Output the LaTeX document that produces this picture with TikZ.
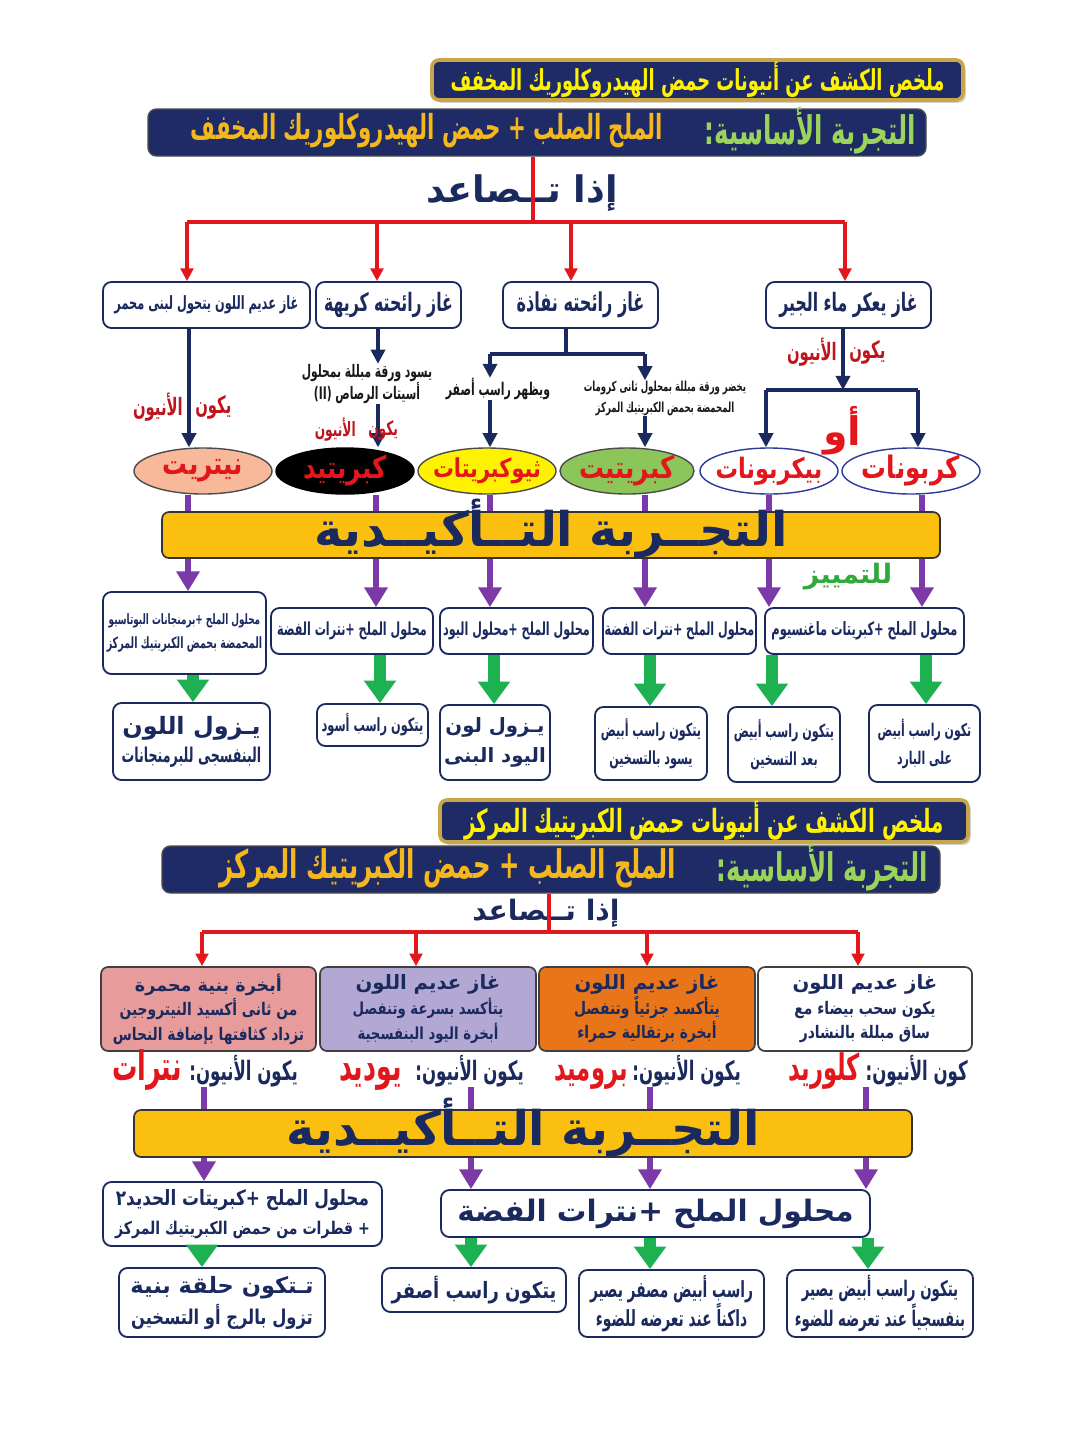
\documentclass[tikz,border=0pt]{standalone}
\usepackage{fontspec}
\usetikzlibrary{arrows.meta,shapes.geometric,shadows}
\TeXXeTstate=1
\newfontfamily\arc[Script=Arabic,FakeStretch=0.62]{DejaVu Sans}
\newfontfamily\arm[Script=Arabic,FakeStretch=0.8]{DejaVu Sans}
\newfontfamily\arw[Script=Arabic]{DejaVu Sans}
\newcommand\rl[1]{\beginR#1\endR}
\newcommand\fs[2]{\fontsize{#1}{#2}\selectfont}
\newcommand\bx[7]{\node[#1,minimum width={(#5-#3)*0.025cm},minimum height={(#6-#4)*0.025cm}] (#2) at ({(#3+#5)/2},{(#4+#6)/2}) {#7};}
\newcommand\ovt[1]{\makebox[0pt]{\raisebox{-3.5pt}{\rl{#1}}}}
\definecolor{navy}{HTML}{1B2A5E}
\definecolor{tnavy}{HTML}{1E2B66}
\definecolor{tgold}{HTML}{C9A64A}
\definecolor{tyel}{HTML}{FFF200}
\definecolor{lgreen}{HTML}{9BD45A}
\definecolor{ggold}{HTML}{F5B81C}
\definecolor{rred}{HTML}{E3161B}
\definecolor{lred}{HTML}{C0141C}
\definecolor{purp}{HTML}{7B3AA8}
\definecolor{grn}{HTML}{1DB152}
\definecolor{tgrn}{HTML}{2EAA3A}
\definecolor{barc}{HTML}{FBBF10}
\definecolor{salm}{HTML}{F8B89A}
\definecolor{ogrn}{HTML}{8CC65A}
\definecolor{oblue}{HTML}{2E3A9A}
\definecolor{cpink}{HTML}{E79B9B}
\definecolor{clav}{HTML}{B3A8D3}
\definecolor{corg}{HTML}{E8751A}
\begin{document}
\begin{tikzpicture}[x=0.025cm,y=-0.025cm,
  every node/.style={inner sep=0pt},
  wbox/.style={draw=navy,line width=1.3pt,rounded corners=6pt,fill=white,text=navy,align=center,font=\arc\bfseries\fs{14}{18}},
  cbox/.style={draw=black!75,line width=1.2pt,rounded corners=5pt,text=navy,align=center,font=\arm\bfseries\fs{12.3}{17.5}},
  ttlA/.style={draw=tgold,line width=2.6pt,rounded corners=5pt,fill=tnavy,text=tyel,font=\arc\bfseries\fs{20.5}{22},drop shadow={opacity=0.35,shadow xshift=2pt,shadow yshift=-2pt}},
  ttlB/.style={draw=black!70,line width=1pt,rounded corners=6pt,fill=tnavy},
  oval/.style={ellipse,line width=1pt,minimum width=3.45cm,minimum height=1.15cm,text=rred,font=\arm\bfseries\fs{22}{24}},
  barbox/.style={draw=black!80,line width=1.2pt,rounded corners=5pt,fill=barc,text=navy,font=\arw\bfseries\fs{34}{36},text height=24pt,text depth=7pt},
  lab/.style={text=lred,font=\arc\bfseries\fs{17}{20}},
  anlab/.style={text=navy,font=\arc\bfseries\fs{19}{22},anchor=base east},
  anion/.style={text=rred,font=\arc\bfseries\fs{26}{28},anchor=base east},
  desc/.style={text=black!90,align=center,font=\arc\bfseries\fs{12.3}{16}},
  redl/.style={draw=rred,line width=2.2pt},
  redarr/.style={draw=rred,line width=2.2pt,-{Triangle[width=9pt,length=9pt]}},
  navl/.style={draw=navy,line width=2.4pt},
  navarr/.style={draw=navy,line width=2.4pt,-{Triangle[width=10pt,length=10pt]}},
  purl/.style={draw=purp,line width=4.5pt},
  purarr/.style={draw=purp,line width=4.5pt,-{Triangle[width=16pt,length=14pt]}},
  grnarr/.style={draw=grn,line width=8pt,-{Triangle[width=22pt,length=16pt]}}
]
\fill[white] (0,0) rectangle (1080,1430);
\useasboundingbox (0,0) rectangle (1080,1430);

% ================= Section 1 =================
\bx{ttlA}{t1}{432}{60}{963}{100}{\rl{ملخص الكشف عن أنيونات حمض الهيدروكلوريك المخفف}}
\bx{ttlB}{t2}{148}{109}{926}{156}{}
\node[anchor=east,text=lgreen,font=\arc\bfseries\fs{28}{30}] (t2a) at (916,131) {\rl{التجربة الأساسية:}};
\node[anchor=east,text=ggold,font=\arc\bfseries\fs{24.5}{27}] (t2b) at (663,131) {\rl{الملح الصلب + حمض الهيدروكلوريك المخفف}};
\node[text=navy,font=\arw\bfseries\fs{26}{30}] (up1) at (522,193) {\rl{إذا تــصاعد}};

\coordinate (sp1) at (533,222);
\coordinate (a1) at (187,222);
\coordinate (a2) at (377,222);
\coordinate (a3) at (571,222);
\coordinate (a4) at (845,222);
\draw[redl] (t2.south -| sp1) -- (sp1);
\draw[redl] (a1) -- (a4);

\bx{wbox,font=\arc\bfseries\fs{13}{16}}{b1}{103}{282}{310}{328}{\rl{غاز عديم اللون يتحول لبنى محمر}}
\bx{wbox,font=\arc\bfseries\fs{18}{20}}{b2}{316}{282}{461}{328}{\rl{غاز رائحته كريهة}}
\bx{wbox,font=\arc\bfseries\fs{18.5}{20}}{b3}{503}{282}{658}{328}{\rl{غاز رائحته نفاذة}}
\bx{wbox,font=\arc\bfseries\fs{18}{20}}{b4}{766}{282}{931}{328}{\rl{غاز يعكر ماء الجير}}
\draw[redarr] (a1) -- (a1 |- b1.north);
\draw[redarr] (a2) -- (a2 |- b2.north);
\draw[redarr] (a3) -- (a3 |- b3.north);
\draw[redarr] (a4) -- (a4 |- b4.north);

% ovals
\node[oval,fill=salm,draw=black!70] (o1) at (203,471) {\ovt{نيتريت}};
\node[oval,fill=black,draw=black] (o2) at (345,471) {\ovt{كبريتيد}};
\node[oval,fill=yellow,draw=black!70,font=\arm\bfseries\fs{18.5}{20}] (o3) at (487,471) {\ovt{ثيوكبريتات}};
\node[oval,fill=ogrn,draw=black!70,minimum width=3.35cm] (o4) at (627,471) {\ovt{كبريتيت}};
\node[oval,fill=white,draw=oblue,font=\arm\bfseries\fs{20}{22}] (o5) at (769,471) {\ovt{بيكربونات}};
\node[oval,fill=white,draw=oblue] (o6) at (911,471) {\ovt{كربونات}};

% branch 1
\coordinate (k1) at (189,400);
\draw[navarr] (b1.south -| k1) -- (k1 |- o1.north);
\node[lab,anchor=west] (l1a) at (195,407) {\rl{يكون}};
\node[lab,anchor=east] (l1b) at (183,407) {\rl{الأنيون}};

% branch 2
\coordinate (k2) at (378,400);
\node[desc] (d2) at (367,384) {\rl{يسود ورقة مبللة بمحلول}\\\rl{أسيتات الرصاص \beginL(II)\endL}};
\draw[navarr] (b2.south -| k2) -- (k2 |- d2.north);
\draw[navarr] (k2 |- d2.south) -- (k2 |- o2.north);
\node[lab,anchor=west,font=\arc\bfseries\fs{14}{16}] (l2a) at (368,430) {\rl{يكون}};
\node[lab,anchor=east,font=\arc\bfseries\fs{14}{16}] (l2b) at (356,430) {\rl{الأنيون}};

% branch 3
\coordinate (s3) at (566,354);
\coordinate (s3l) at (490,354);
\coordinate (s3r) at (645,354);
\node[desc,font=\arc\bfseries\fs{12.5}{15}] (d3a) at (498,389) {\rl{ويظهر راسب أصفر}};
\node[desc,font=\arc\bfseries\fs{9.8}{15}] (d3b) at (665,398) {\rl{يخضر ورقة مبللة بمحلول ثانى كرومات}\\\rl{المحمضة بحمض الكبريتيك المركز}};
\draw[navl] (b3.south -| s3) -- (s3);
\draw[navl] (s3l) -- (s3r);
\draw[navarr] (s3l) -- (s3l |- d3a.north);
\draw[navarr] (s3l |- d3a.south) -- (s3l |- o3.north);
\draw[navarr] (s3r) -- (s3r |- d3b.north);
\draw[navarr] (s3r |- d3b.south) -- (s3r |- o4.north);

% branch 4
\coordinate (s4) at (843,390);
\coordinate (s4l) at (766,390);
\coordinate (s4r) at (918,390);
\draw[navarr] (b4.south -| s4) -- (s4);
\draw[navl] (s4l) -- (s4r);
\draw[navarr] (s4l) -- (s4l |- o5.north);
\draw[navarr] (s4r) -- (s4r |- o6.north);
\node[lab,anchor=west] (l4a) at (849,352) {\rl{يكون}};
\node[lab,anchor=east] (l4b) at (837,352) {\rl{الأنيون}};
\node[text=rred,font=\arw\bfseries\fs{28}{30}] (aw) at (842,431) {\rl{أو}};

% confirm bar 1
\bx{barbox}{bar1}{162}{512}{940}{558}{\rl{التجــربة التــأكيــدية}}
\coordinate (p1) at (188,500);
\coordinate (p2) at (376,500);
\coordinate (p3) at (490,500);
\coordinate (p4) at (645,500);
\coordinate (p5) at (769,500);
\coordinate (p6) at (922,500);
\draw[purl] (p1 |- o1.south) -- (p1 |- bar1.north);
\draw[purl] (p2 |- o2.south) -- (p2 |- bar1.north);
\draw[purl] (p3 |- o3.south) -- (p3 |- bar1.north);
\draw[purl] (p4 |- o4.south) -- (p4 |- bar1.north);
\draw[purl] (p5 |- o5.south) -- (p5 |- bar1.north);
\draw[purl] (p6 |- o6.south) -- (p6 |- bar1.north);
\node[text=tgrn,font=\arw\bfseries\fs{19}{21}] (tmz) at (848,577) {\rl{للتمييز}};

% tests
\bx{wbox,font=\arc\bfseries\fs{11}{17}}{tb1}{103}{592}{266}{674}{{\fs{10.2}{17}\rl{محلول الملح +برمنجانات البوتاسيو}}\\\rl{المحمضة بحمض الكبريتيك المركز}}
\bx{wbox,font=\arc\bfseries\fs{12.8}{15}}{tb2}{271}{608}{433}{654}{\rl{محلول الملح +نترات الفضة}}
\bx{wbox,font=\arc\bfseries\fs{12.8}{15}}{tb3}{440}{608}{593}{654}{\rl{محلول الملح +محلول اليود}}
\bx{wbox,font=\arc\bfseries\fs{12.8}{15}}{tb4}{603}{608}{756}{654}{\rl{محلول الملح +نترات الفضة}}
\bx{wbox,font=\arc\bfseries\fs{13.1}{15}}{tb5}{765}{608}{964}{654}{\rl{محلول الملح +كبريتات ماغنسيوم}}
\draw[purarr] (p1 |- bar1.south) -- (p1 |- tb1.north);
\draw[purarr] (p2 |- bar1.south) -- (p2 |- tb2.north);
\draw[purarr] (p3 |- bar1.south) -- (p3 |- tb3.north);
\draw[purarr] (p4 |- bar1.south) -- (p4 |- tb4.north);
\draw[purarr] (p5 |- bar1.south) -- (p5 |- tb5.north);
\draw[purarr] (p6 |- bar1.south) -- (p6 |- tb5.north);

% results
\bx{wbox,font=\arc\bfseries\fs{14.5}{20}}{r1}{113}{703}{270}{780}{{\arw\fs{17}{19}\rl{يـزول اللون}}\\\rl{البنفسجى للبرمنجانات}}
\bx{wbox,font=\arc\bfseries\fs{13}{15}}{r2}{317}{704}{428}{746}{\rl{يتكون راسب أسود}}
\bx{wbox,font=\arw\bfseries\fs{14}{21}}{r3}{440}{705}{550}{780}{\rl{يـزول لون}\\\rl{اليود البنى}}
\bx{wbox,font=\arc\bfseries\fs{12.8}{20}}{r4}{595}{707}{707}{780}{\rl{يتكون راسب أبيض}\\\rl{يسود بالتسخين}}
\bx{wbox,font=\arc\bfseries\fs{12.8}{20}}{r5}{728}{707}{840}{782}{\rl{يتكون راسب أبيض}\\\rl{بعد التسخين}}
\bx{wbox,font=\arc\bfseries\fs{12.5}{20}}{r6}{869}{705}{980}{782}{\rl{تكون راسب أبيض}\\\rl{على البارد}}
\coordinate (g1) at (193,690);
\coordinate (g2) at (380,690);
\coordinate (g3) at (494,690);
\coordinate (g4) at (650,690);
\coordinate (g5) at (772,690);
\coordinate (g6) at (926,690);
\draw[grnarr] (g1 |- tb1.south) -- (g1 |- r1.north);
\draw[grnarr] (g2 |- tb2.south) -- (g2 |- r2.north);
\draw[grnarr] (g3 |- tb3.south) -- (g3 |- r3.north);
\draw[grnarr] (g4 |- tb4.south) -- (g4 |- r4.north);
\draw[grnarr] (g5 |- tb5.south) -- (g5 |- r5.north);
\draw[grnarr] (g6 |- tb5.south) -- (g6 |- r6.north);

% ================= Section 2 =================
\bx{ttlA,font=\arc\bfseries\fs{22.7}{24}}{t3}{440}{800}{968}{842}{\rl{ملخص الكشف عن أنيونات حمض الكبريتيك المركز}}
\bx{ttlB}{t4}{162}{846}{940}{893}{}
\node[anchor=east,text=lgreen,font=\arc\bfseries\fs{28}{30}] (t4a) at (928,868) {\rl{التجربة الأساسية:}};
\node[anchor=east,text=ggold,font=\arc\bfseries\fs{28}{30}] (t4b) at (676,868) {\rl{الملح الصلب + حمض الكبريتيك المركز}};
\node[text=navy,font=\arw\bfseries\fs{20}{22}] (up2) at (546,913) {\rl{إذا تــصاعد}};
\coordinate (sp2) at (549,932);
\coordinate (e1x) at (202,932);
\coordinate (e2x) at (416,932);
\coordinate (e3x) at (647,932);
\coordinate (e4x) at (858,932);
\draw[redl] (t4.south -| sp2) -- (sp2);
\draw[redl] (e1x) -- (e4x);

\bx{cbox,fill=cpink}{c1}{101}{967}{316}{1051}{{\arw\fs{12.5}{17}\rl{أبخرة بنية محمرة}}\\\rl{من ثانى أكسيد النيتروجين}\\\rl{تزداد كثافتها بإضافة النحاس}}
\bx{cbox,fill=clav,font=\arm\bfseries\fs{11.8}{17.5}}{c2}{320}{967}{536}{1051}{{\arw\fs{14}{17}\rl{غاز عديم اللون}}\\\rl{يتأكسد بسرعة وتنفصل}\\\rl{أبخرة اليود البنفسجية}}
\bx{cbox,fill=corg}{c3}{539}{967}{755}{1051}{{\arw\fs{14}{17}\rl{غاز عديم اللون}}\\\rl{يتأكسد جزئياً وتنفصل}\\\rl{أبخرة برتقالية حمراء}}
\bx{cbox,fill=white}{c4}{758}{967}{972}{1051}{{\arw\fs{14}{17}\rl{غاز عديم اللون}}\\\rl{يكون سحب بيضاء مع}\\\rl{ساق مبللة بالنشادر}}
\draw[redarr] (e1x) -- (e1x |- c1.north);
\draw[redarr] (e2x) -- (e2x |- c2.north);
\draw[redarr] (e3x) -- (e3x |- c3.north);
\draw[redarr] (e4x) -- (e4x |- c4.north);

\node[anlab] (n1) at (298,1080) {\rl{يكون الأنيون:}};
\node[anion,font=\arc\bfseries\fs{29}{30}] (n1b) at (182,1080) {\rl{نترات}};
\node[anlab] (n2) at (524,1080) {\rl{يكون الأنيون:}};
\node[anion,font=\arc\bfseries\fs{29}{30}] (n2b) at (402,1080) {\rl{يوديد}};
\node[anlab] (n3) at (741,1080) {\rl{يكون الأنيون:}};
\node[anion] (n3b) at (628,1080) {\rl{بروميد}};
\node[anlab] (n4) at (968,1080) {\rl{كون الأنيون:}};
\node[anion] (n4b) at (860,1080) {\rl{كلوريد}};

\bx{barbox}{bar2}{134}{1110}{912}{1157}{\rl{التجــربة التــأكيــدية}}
\coordinate (q1) at (204,1100);
\coordinate (q2) at (471,1100);
\coordinate (q3) at (650,1100);
\coordinate (q4) at (866,1100);
\draw[purl] (q1 |- n1.south) -- (q1 |- bar2.north);
\draw[purl] (q2 |- n2.south) -- (q2 |- bar2.north);
\draw[purl] (q3 |- n3.south) -- (q3 |- bar2.north);
\draw[purl] (q4 |- n4.south) -- (q4 |- bar2.north);

\bx{wbox,font=\arm\bfseries\fs{15}{21}}{f1}{103}{1182}{382}{1246}{\rl{محلول الملح +كبريتات الحديد٢}\\{\fs{12.5}{17}\rl{+ قطرات من حمض الكبريتيك المركز}}}
\bx{wbox,font=\arw\bfseries\fs{21}{24}}{f2}{441}{1190}{870}{1237}{\rl{محلول الملح +نترات الفضة}}
\draw[purarr] (q1 |- bar2.south) -- (q1 |- f1.north);
\draw[purarr] (q2 |- bar2.south) -- (q2 |- f2.north);
\draw[purarr] (q3 |- bar2.south) -- (q3 |- f2.north);
\draw[purarr] (q4 |- bar2.south) -- (q4 |- f2.north);

\bx{wbox,font=\arm\bfseries\fs{14.5}{22}}{h1}{119}{1268}{325}{1337}{{\arw\fs{16}{20}\rl{تـتكون حلقة بنية}}\\\rl{تزول بالرج أو التسخين}}
\bx{wbox,font=\arm\bfseries\fs{16}{18}}{h2}{382}{1268}{566}{1312}{\rl{يتكون  راسب أصفر}}
\bx{wbox,font=\arc\bfseries\fs{15.8}{21}}{h3}{579}{1270}{764}{1337}{\rl{راسب أبيض مصفر يصير}\\\rl{داكناً عند تعرضه للضوء}}
\bx{wbox,font=\arc\bfseries\fs{15.3}{21}}{h4}{787}{1270}{973}{1337}{\rl{يتكون راسب أبيض يصير}\\\rl{بنفسجياً عند تعرضه للضوء}}
\coordinate (m1) at (202,1255);
\coordinate (m2) at (471,1255);
\coordinate (m3) at (650,1255);
\coordinate (m4) at (868,1255);
\draw[grnarr] (m1 |- f1.south) -- (m1 |- h1.north);
\draw[grnarr] (m2 |- f2.south) -- (m2 |- h2.north);
\draw[grnarr] (m3 |- f2.south) -- (m3 |- h3.north);
\draw[grnarr] (m4 |- f2.south) -- (m4 |- h4.north);
\end{tikzpicture}
\end{document}
